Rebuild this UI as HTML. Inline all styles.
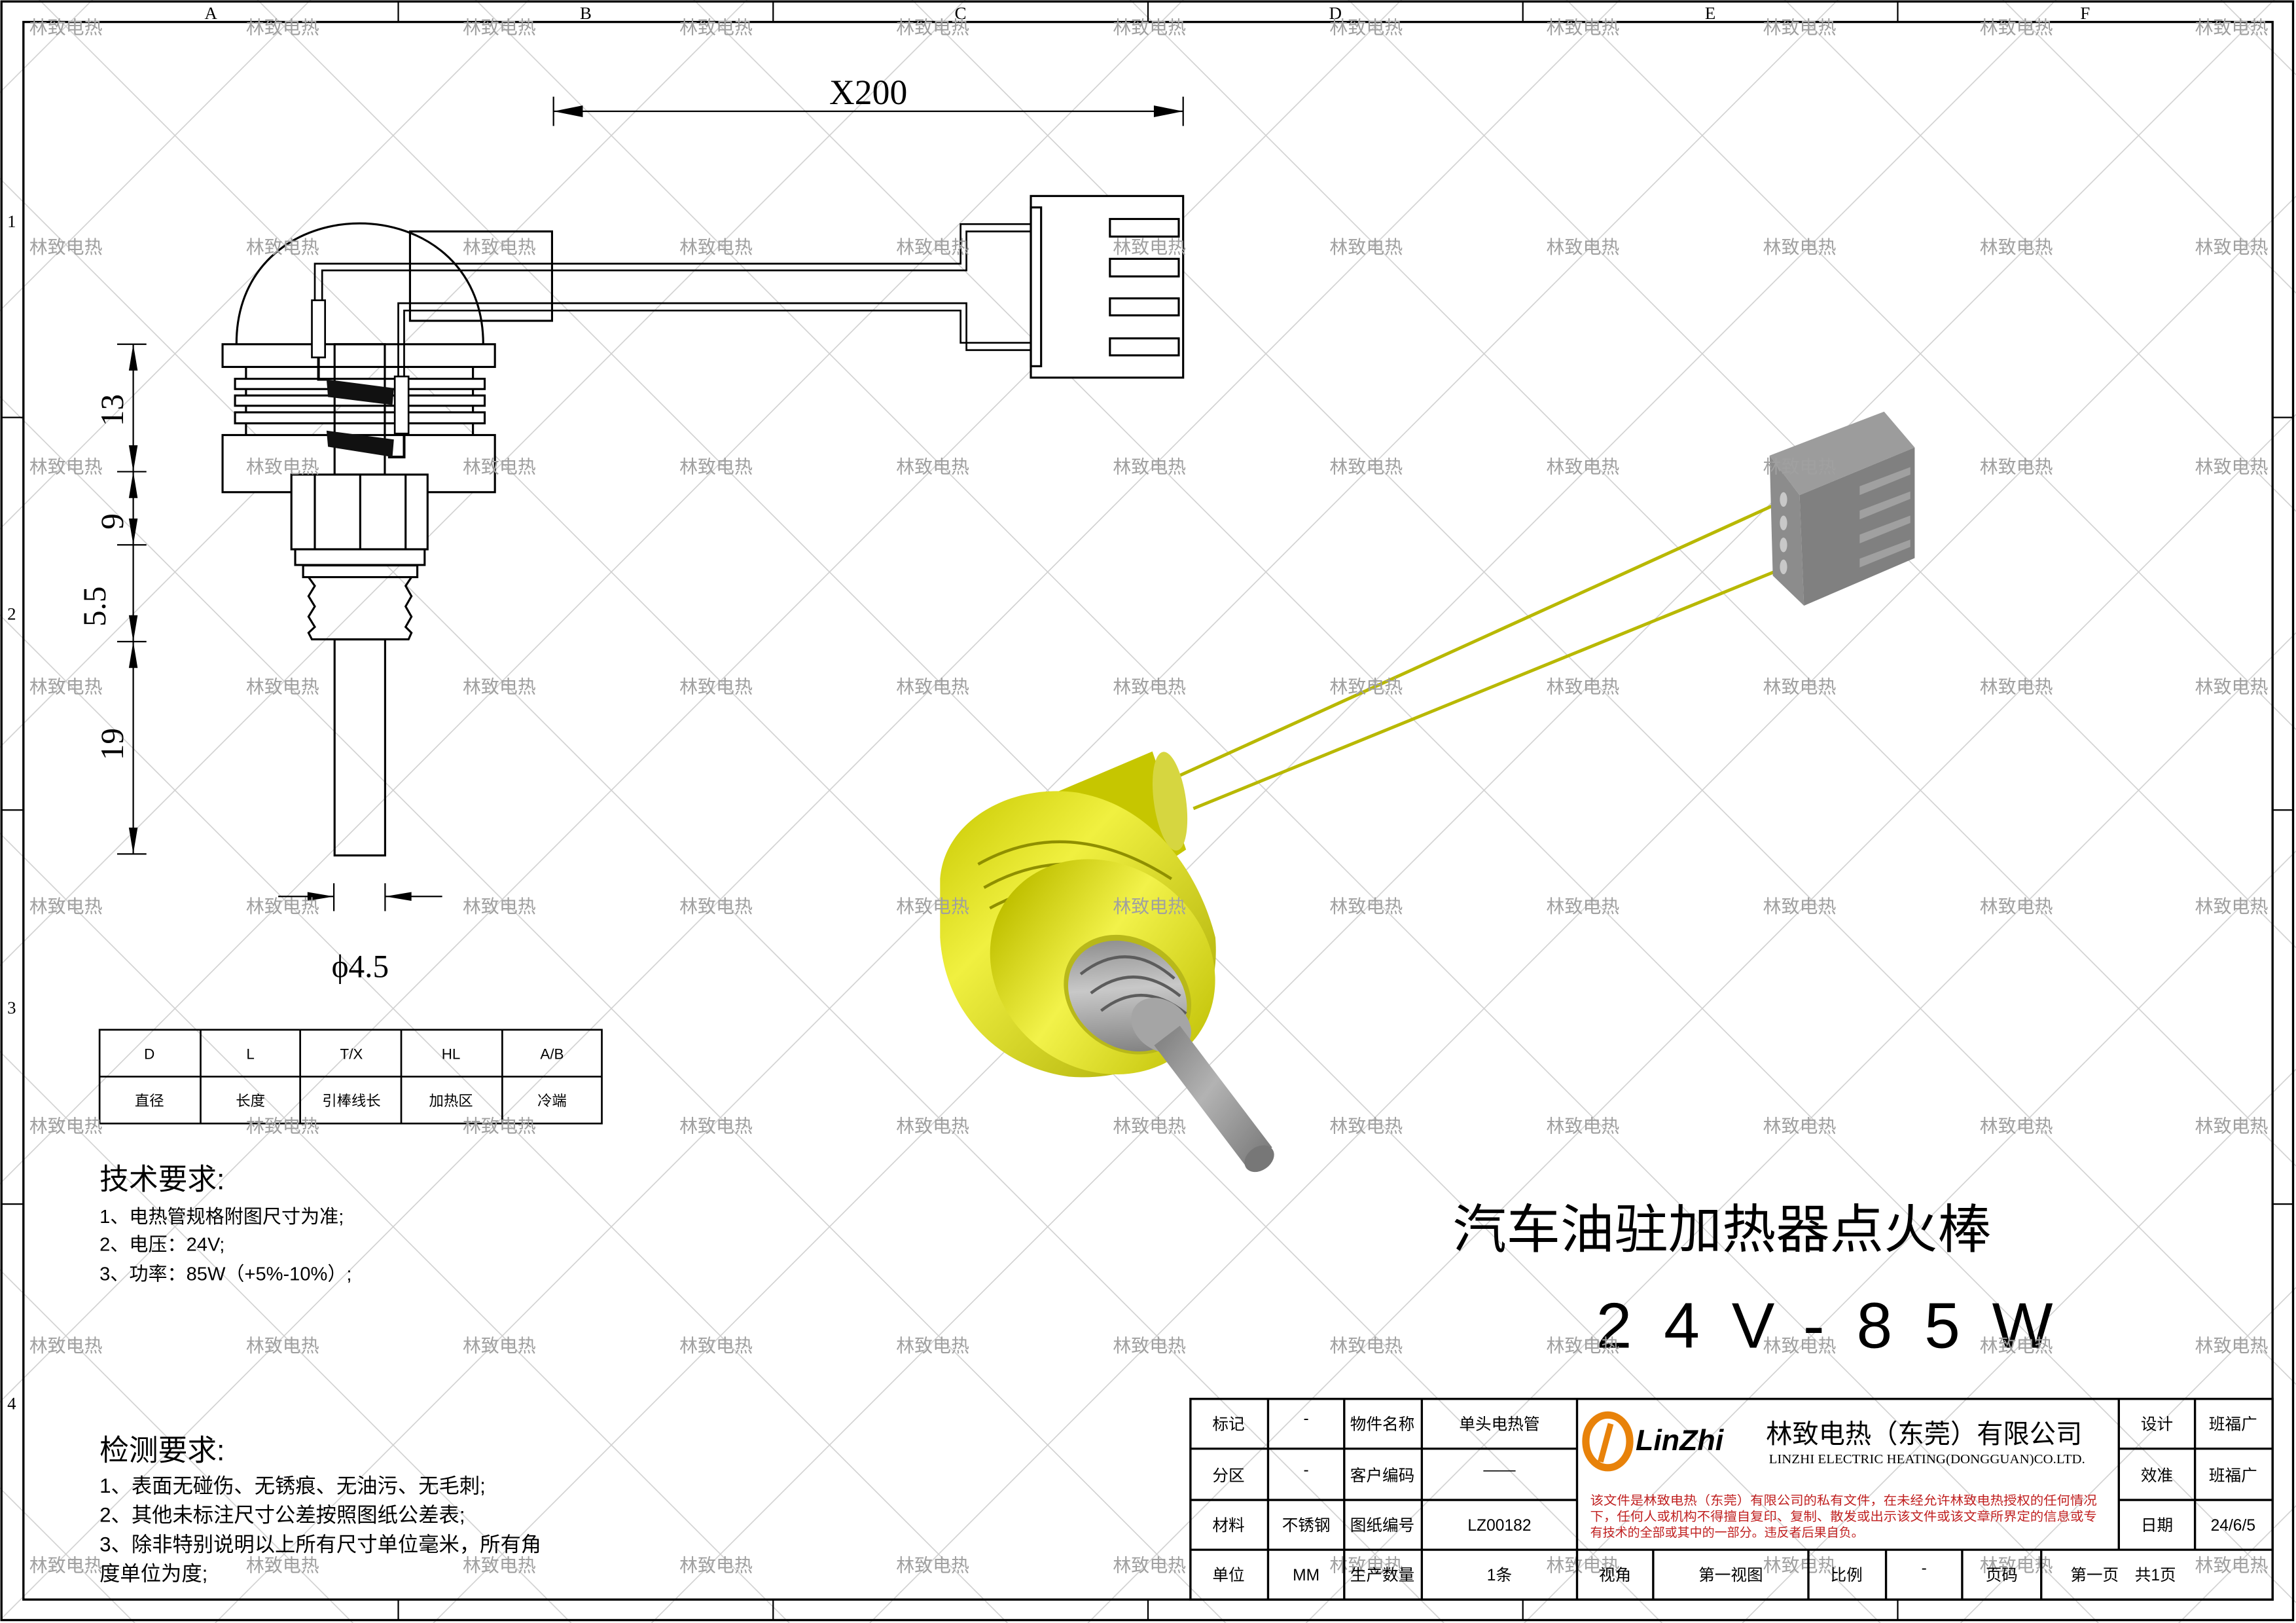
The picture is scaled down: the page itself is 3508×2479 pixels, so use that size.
<!DOCTYPE html>
<html><head><meta charset="utf-8"><style>html,body{margin:0;padding:0;background:#fff}svg{display:block}</style></head>
<body>
<svg width="3508" height="2479" viewBox="0 0 1568 1108" preserveAspectRatio="none" xmlns="http://www.w3.org/2000/svg" font-family="'Liberation Sans','Noto Sans CJK SC',sans-serif">
<defs>
<pattern id="wm" x="45" y="18" width="149" height="149" patternUnits="userSpaceOnUse">
<line x1="0" y1="0" x2="149" y2="149" stroke="#cfcfcf" stroke-width="0.7"/>
<line x1="149" y1="0" x2="0" y2="149" stroke="#cfcfcf" stroke-width="0.7"/>
</pattern>
<linearGradient id="yg" x1="0" y1="0" x2="1" y2="1"><stop offset="0" stop-color="#c8c800"/><stop offset="0.35" stop-color="#f0f040"/><stop offset="1" stop-color="#a5a500"/></linearGradient>
<linearGradient id="yf" x1="0" y1="0" x2="1" y2="0"><stop offset="0" stop-color="#c0c000"/><stop offset="0.45" stop-color="#f2f24a"/><stop offset="1" stop-color="#c8c810"/></linearGradient>
<linearGradient id="gg" x1="0" y1="0" x2="1" y2="1"><stop offset="0" stop-color="#777"/><stop offset="0.45" stop-color="#c8c8c8"/><stop offset="1" stop-color="#6a6a6a"/></linearGradient>
</defs>
<rect width="1568" height="1108" fill="#fff"/>
<rect width="1568" height="1108" fill="url(#wm)"/>

<!-- frame -->
<rect x="1" y="1" width="1565" height="1105" fill="none" stroke="#000" stroke-width="1.5"/>
<rect x="16" y="15" width="1536" height="1077" fill="none" stroke="#000" stroke-width="1.5"/>
<g stroke="#000" stroke-width="1">
<line x1="272" y1="1" x2="272" y2="15"/><line x1="528" y1="1" x2="528" y2="15"/><line x1="784" y1="1" x2="784" y2="15"/><line x1="1040" y1="1" x2="1040" y2="15"/><line x1="1296" y1="1" x2="1296" y2="15"/>
<line x1="1" y1="285" x2="16" y2="285"/><line x1="1" y1="553" x2="16" y2="553"/><line x1="1" y1="822" x2="16" y2="822"/>
<line x1="1552" y1="285" x2="1566" y2="285"/><line x1="1552" y1="553" x2="1566" y2="553"/><line x1="1552" y1="822" x2="1566" y2="822"/>
<line x1="272" y1="1092" x2="272" y2="1106"/><line x1="528" y1="1092" x2="528" y2="1106"/><line x1="784" y1="1092" x2="784" y2="1106"/><line x1="1040" y1="1092" x2="1040" y2="1106"/><line x1="1296" y1="1092" x2="1296" y2="1106"/>
</g>
<g font-family="'Liberation Serif',serif" font-size="12" text-anchor="middle">
<text x="144" y="13">A</text><text x="400" y="13">B</text><text x="656" y="13">C</text><text x="912" y="13">D</text><text x="1168" y="13">E</text><text x="1424" y="13">F</text>
<text x="8" y="155">1</text><text x="8" y="423">2</text><text x="8" y="692">3</text><text x="8" y="962">4</text>
</g>

<!-- X200 dimension -->
<g stroke="#000" stroke-width="1" fill="none">
<line x1="378" y1="66" x2="378" y2="86"/><line x1="808" y1="66" x2="808" y2="86"/>
<line x1="378" y1="76" x2="808" y2="76"/>
</g>
<polygon points="378,76 398,72 398,80" fill="#000"/><polygon points="808,76 788,72 788,80" fill="#000"/>
<text x="593" y="71" font-family="'Liberation Serif',serif" font-size="24" text-anchor="middle">X200</text>

<!-- left drawing -->
<g stroke="#000" stroke-width="1.4" fill="none">
<path d="M161.5,235 C161,125 330,125 330,235"/>
<rect x="280" y="158" width="97" height="61"/>
<rect x="152" y="235" width="186" height="15.5" fill="#fff"/>
<line x1="168" y1="250" x2="168" y2="297"/><line x1="323" y1="250" x2="323" y2="297"/>
<rect x="160.5" y="258.6" width="170.5" height="7" fill="#fff"/><rect x="160.5" y="270" width="170.5" height="7" fill="#fff"/><rect x="160.5" y="281.5" width="170.5" height="7.5" fill="#fff"/>
<rect x="152" y="297" width="186" height="39" fill="#fff"/>
<rect x="228.5" y="235" width="34.3" height="89" fill="none"/>
<rect x="199" y="324" width="93" height="51" fill="#fff"/>
<line x1="215" y1="324" x2="215" y2="375"/><line x1="246" y1="324" x2="246" y2="375"/><line x1="277" y1="324" x2="277" y2="375"/>
<rect x="201.6" y="375" width="88.4" height="10.7" fill="#fff"/>
<rect x="207" y="386" width="78" height="8"/>
<path d="M210.7,394 L215,400 L210.7,407 L215,414 L210.7,421 L215,428 L210.7,432 L213,436.5 L279,436.5 L281,432 L277,428 L281,421 L277,414 L281,407 L277,400 L281,394"/>
<rect x="228.5" y="436.5" width="34.5" height="147.5"/>
<!-- wires -->
<path d="M215,205 L215,180 L656,180 L656,153 L758,153" stroke-width="1.2"/>
<path d="M220,205 L220,184.6 L660,184.6 L660,158 L758,158" stroke-width="1.2"/>
<path d="M272,257 L272,207 L660,207 L660,239 L758,239" stroke-width="1.2"/>
<path d="M276,257 L276,212 L656,212 L656,234 L758,234" stroke-width="1.2"/>
<rect x="213" y="205" width="9" height="39" fill="#fff" stroke-width="1.2"/>
<rect x="269.6" y="257" width="9.4" height="39" fill="#fff" stroke-width="1.2"/>
<path d="M217.5,244 L217.5,259 L224,259" stroke-width="1.8"/>
<path d="M276,296 L276,312 L265,312" stroke-width="1.8"/>
<!-- connector -->
<rect x="704" y="133.8" width="104" height="124" fill="#fff"/>
<rect x="704" y="141.6" width="7" height="108.4"/>
<rect x="758" y="149.5" width="47" height="12" fill="#fff"/><rect x="758" y="176.7" width="47" height="12" fill="#fff"/><rect x="758" y="203.7" width="47" height="11.6" fill="#fff"/><rect x="758" y="231" width="47" height="11.6" fill="#fff"/>
</g>
<!-- coils -->
<g fill="#111">
<polygon points="223,259 269,265 268,276.5 224,271"/>
<polygon points="223,294 269,300 268,312 224,305"/>
</g>

<!-- vertical dimension -->
<g stroke="#000" stroke-width="1" fill="none">
<line x1="91" y1="235" x2="91" y2="583"/>
<line x1="80" y1="235" x2="100" y2="235"/><line x1="80" y1="322" x2="100" y2="322"/><line x1="80" y1="372" x2="100" y2="372"/><line x1="80" y1="438" x2="100" y2="438"/><line x1="80" y1="583" x2="100" y2="583"/>
</g>
<g fill="#000">
<polygon points="91,235 88,253 94,253"/><polygon points="91,322 88,304 94,304"/>
<polygon points="91,322 88,340 94,340"/>
<polygon points="91,372 88,354 94,354"/><polygon points="91,438 88,420 94,420"/>
<polygon points="91,438 88,456 94,456"/><polygon points="91,583 88,565 94,565"/>
</g>
<g font-family="'Liberation Serif',serif" font-size="22" text-anchor="middle">
<text transform="translate(84,280) rotate(-90)">13</text>
<text transform="translate(84,356) rotate(-90)">9</text>
<text transform="translate(72,414) rotate(-90)">5.5</text>
<text transform="translate(84,508) rotate(-90)">19</text>
</g>
<!-- phi dimension -->
<g stroke="#000" stroke-width="1"><line x1="228" y1="603" x2="228" y2="622"/><line x1="263" y1="603" x2="263" y2="622"/><line x1="190" y1="612" x2="228" y2="612"/><line x1="263" y1="612" x2="302" y2="612"/></g>
<polygon points="228,612 210,609 210,615" fill="#000"/><polygon points="263,612 281,609 281,615" fill="#000"/>
<text x="246" y="667" font-family="'Liberation Serif',serif" font-size="22" text-anchor="middle">ϕ4.5</text>

<!-- spec table -->
<g stroke="#000" stroke-width="1.2" fill="none">
<rect x="68" y="703" width="343" height="64"/><line x1="68" y1="735" x2="411" y2="735"/>
<line x1="137" y1="703" x2="137" y2="767"/><line x1="205" y1="703" x2="205" y2="767"/><line x1="274" y1="703" x2="274" y2="767"/><line x1="343" y1="703" x2="343" y2="767"/>
</g>
<g font-size="10" text-anchor="middle">
<text x="102" y="723">D</text><text x="171" y="723">L</text><text x="240" y="723">T/X</text><text x="308" y="723">HL</text><text x="377" y="723">A/B</text>
<text x="102" y="755">直径</text><text x="171" y="755">长度</text><text x="240" y="755">引棒线长</text><text x="308" y="755">加热区</text><text x="377" y="755">冷端</text>
</g>

<!-- notes -->
<text x="68" y="812" font-size="20">技术要求:</text>
<g font-size="13"><text x="68" y="835">1、电热管规格附图尺寸为准;</text><text x="68" y="854">2、电压：24V;</text><text x="68" y="874">3、功率：85W（+5%-10%）;</text></g>
<text x="68" y="997" font-size="20">检测要求:</text>
<g font-size="14"><text x="68" y="1019">1、表面无碰伤、无锈痕、无油污、无毛刺;</text><text x="68" y="1039">2、其他未标注尺寸公差按照图纸公差表;</text><text x="68" y="1059">3、除非特别说明以上所有尺寸单位毫米，所有角</text><text x="68" y="1079">度单位为度;</text></g>

<!-- titles -->
<text x="992" y="852" font-size="36" textLength="368" lengthAdjust="spacingAndGlyphs">汽车油驻加热器点火棒</text>
<text x="1090" y="920" font-size="44" textLength="312" lengthAdjust="spacing">24V-85W</text>

<!-- 3D render -->
<g>
<line x1="800" y1="532" x2="1220" y2="341" stroke="#b8b800" stroke-width="2.2"/>
<line x1="815" y1="552" x2="1220" y2="387" stroke="#b8b800" stroke-width="2.2"/>
<polygon points="1208.5,311 1286.7,281 1307.6,305.5 1229,338" fill="#9c9c9c"/>
<polygon points="1208.5,311 1229,338 1232,413.5 1210.7,393" fill="#8c8c8c"/>
<polygon points="1229,338 1307.6,305.5 1307.6,381 1232,413.5" fill="#808080"/>
<g fill="#a0a0a0">
<polygon points="1270,332 1304.6,318.9 1304.6,324 1270,338"/>
<polygon points="1270,348.6 1304.6,335.5 1304.6,340.6 1270,354.6"/>
<polygon points="1270,365 1304.6,352 1304.6,357 1270,371"/>
<polygon points="1270,381.4 1304.6,368.4 1304.6,373.4 1270,387.4"/>
</g>
<g fill="#c8c8c8"><ellipse cx="1218" cy="341" rx="2.5" ry="5"/><ellipse cx="1218" cy="357" rx="2.5" ry="5"/><ellipse cx="1218" cy="372" rx="2.5" ry="5"/><ellipse cx="1218" cy="387" rx="2.5" ry="5"/></g>

<polygon points="721,541 787,513 810,580 760,614" fill="#c6c600"/>
<ellipse cx="799" cy="547" rx="11" ry="34" transform="rotate(-8 799 547)" fill="#d6d640"/>
<path d="M642,600 C645,560 690,535 735,541 C790,550 820,600 830,640 C835,700 790,740 730,735 C680,728 645,690 642,640 Z" fill="url(#yg)"/>
<path d="M668,590 Q730,555 800,600" stroke="#8f8f00" stroke-width="2" fill="none"/>
<path d="M672,606 Q735,570 805,614" stroke="#8f8f00" stroke-width="2" fill="none"/>
<path d="M676,620 Q738,586 808,628" stroke="#8f8f00" stroke-width="2" fill="none"/>
<ellipse cx="753" cy="660" rx="80" ry="70" transform="rotate(35 753 660)" fill="url(#yf)"/>
<ellipse cx="770" cy="679" rx="46" ry="38" transform="rotate(35 770 679)" fill="#b8b81a"/>
<ellipse cx="770" cy="680" rx="43" ry="35" transform="rotate(35 770 680)" fill="url(#gg)"/>
<path d="M738,665 Q770,640 802,668" stroke="#5c5c5c" stroke-width="2" fill="none"/>
<path d="M745,678 Q775,655 806,680" stroke="#5c5c5c" stroke-width="2" fill="none"/>
<path d="M752,690 Q780,668 810,692" stroke="#5c5c5c" stroke-width="2" fill="none"/>
<ellipse cx="793" cy="700" rx="22" ry="17" transform="rotate(35 793 700)" fill="#a5a5a5"/>
<line x1="797" y1="707" x2="860" y2="790" stroke="url(#gg)" stroke-width="22"/>
<line x1="797" y1="707" x2="860" y2="790" stroke="#999" stroke-width="22" stroke-opacity="0.45"/>
<ellipse cx="860" cy="791" rx="11" ry="8" transform="rotate(-35 860 791)" fill="#777"/>
</g>

<!-- watermark text -->
<g font-size="12.5" fill="#a0a0a0" text-anchor="middle">
<text x="45" y="23">林致电热</text><text x="193" y="23">林致电热</text><text x="341" y="23">林致电热</text><text x="489" y="23">林致电热</text><text x="637" y="23">林致电热</text><text x="785" y="23">林致电热</text><text x="933" y="23">林致电热</text><text x="1081" y="23">林致电热</text><text x="1229" y="23">林致电热</text><text x="1377" y="23">林致电热</text><text x="1524" y="23">林致电热</text>
<text x="45" y="173">林致电热</text><text x="193" y="173">林致电热</text><text x="341" y="173">林致电热</text><text x="489" y="173">林致电热</text><text x="637" y="173">林致电热</text><text x="785" y="173">林致电热</text><text x="933" y="173">林致电热</text><text x="1081" y="173">林致电热</text><text x="1229" y="173">林致电热</text><text x="1377" y="173">林致电热</text><text x="1524" y="173">林致电热</text>
<text x="45" y="323">林致电热</text><text x="193" y="323">林致电热</text><text x="341" y="323">林致电热</text><text x="489" y="323">林致电热</text><text x="637" y="323">林致电热</text><text x="785" y="323">林致电热</text><text x="933" y="323">林致电热</text><text x="1081" y="323">林致电热</text><text x="1229" y="323">林致电热</text><text x="1377" y="323">林致电热</text><text x="1524" y="323">林致电热</text>
<text x="45" y="473">林致电热</text><text x="193" y="473">林致电热</text><text x="341" y="473">林致电热</text><text x="489" y="473">林致电热</text><text x="637" y="473">林致电热</text><text x="785" y="473">林致电热</text><text x="933" y="473">林致电热</text><text x="1081" y="473">林致电热</text><text x="1229" y="473">林致电热</text><text x="1377" y="473">林致电热</text><text x="1524" y="473">林致电热</text>
<text x="45" y="623">林致电热</text><text x="193" y="623">林致电热</text><text x="341" y="623">林致电热</text><text x="489" y="623">林致电热</text><text x="637" y="623">林致电热</text><text x="785" y="623">林致电热</text><text x="933" y="623">林致电热</text><text x="1081" y="623">林致电热</text><text x="1229" y="623">林致电热</text><text x="1377" y="623">林致电热</text><text x="1524" y="623">林致电热</text>
<text x="45" y="773">林致电热</text><text x="193" y="773">林致电热</text><text x="341" y="773">林致电热</text><text x="489" y="773">林致电热</text><text x="637" y="773">林致电热</text><text x="785" y="773">林致电热</text><text x="933" y="773">林致电热</text><text x="1081" y="773">林致电热</text><text x="1229" y="773">林致电热</text><text x="1377" y="773">林致电热</text><text x="1524" y="773">林致电热</text>
<text x="45" y="923">林致电热</text><text x="193" y="923">林致电热</text><text x="341" y="923">林致电热</text><text x="489" y="923">林致电热</text><text x="637" y="923">林致电热</text><text x="785" y="923">林致电热</text><text x="933" y="923">林致电热</text><text x="1081" y="923">林致电热</text><text x="1229" y="923">林致电热</text><text x="1377" y="923">林致电热</text><text x="1524" y="923">林致电热</text>
<text x="45" y="1073">林致电热</text><text x="193" y="1073">林致电热</text><text x="341" y="1073">林致电热</text><text x="489" y="1073">林致电热</text><text x="637" y="1073">林致电热</text><text x="785" y="1073">林致电热</text><text x="933" y="1073">林致电热</text><text x="1081" y="1073">林致电热</text><text x="1229" y="1073">林致电热</text><text x="1377" y="1073">林致电热</text><text x="1524" y="1073">林致电热</text>
</g>

<!-- title block -->
<g stroke="#000" stroke-width="1.5" fill="none">
<rect x="813" y="955" width="739" height="137"/>
<line x1="813" y1="989" x2="1077" y2="989"/><line x1="813" y1="1024" x2="1077" y2="1024"/>
<line x1="1447" y1="989" x2="1552" y2="989"/><line x1="1447" y1="1024" x2="1552" y2="1024"/>
<line x1="813" y1="1058" x2="1552" y2="1058"/>
<line x1="866" y1="955" x2="866" y2="1092"/><line x1="918" y1="955" x2="918" y2="1092"/><line x1="971" y1="955" x2="971" y2="1092"/><line x1="1077" y1="955" x2="1077" y2="1092"/>
<line x1="1447" y1="955" x2="1447" y2="1058"/><line x1="1499" y1="955" x2="1499" y2="1058"/>
<line x1="1129" y1="1058" x2="1129" y2="1092"/><line x1="1235" y1="1058" x2="1235" y2="1092"/><line x1="1288" y1="1058" x2="1288" y2="1092"/><line x1="1340" y1="1058" x2="1340" y2="1092"/><line x1="1394" y1="1058" x2="1394" y2="1092"/>
</g>
<g font-size="11" text-anchor="middle">
<text x="839" y="976">标记</text><text x="892" y="972">-</text><text x="944" y="976">物件名称</text><text x="1024" y="976">单头电热管</text>
<text x="839" y="1011">分区</text><text x="892" y="1007">-</text><text x="944" y="1011">客户编码</text><text x="1024" y="1007">——</text>
<text x="839" y="1045">材料</text><text x="892" y="1045">不锈钢</text><text x="944" y="1045">图纸编号</text><text x="1024" y="1045">LZ00182</text>
<text x="839" y="1079">单位</text><text x="892" y="1079">MM</text><text x="944" y="1079">生产数量</text><text x="1024" y="1079">1条</text>
<text x="1103" y="1079">视角</text><text x="1182" y="1079">第一视图</text><text x="1261" y="1079">比例</text><text x="1314" y="1074">-</text><text x="1367" y="1079">页码</text><text x="1450" y="1079">第一页　共1页</text>
<text x="1473" y="976">设计</text><text x="1525" y="976">班福广</text>
<text x="1473" y="1011">效准</text><text x="1525" y="1011">班福广</text>
<text x="1473" y="1045">日期</text><text x="1525" y="1045">24/6/5</text>
</g>
<!-- logo -->
<ellipse cx="1098" cy="984" rx="15" ry="18" fill="none" stroke="#e8820a" stroke-width="5"/>
<path d="M1100,972 L1093,998" stroke="#e8820a" stroke-width="4"/>
<text x="1117" y="990" font-size="20" font-weight="bold" font-style="italic" fill="#000">LinZhi</text>
<text x="1206" y="985" font-size="18">林致电热（东莞）有限公司</text>
<text x="1208" y="999" font-family="'Liberation Serif',serif" font-size="9" textLength="216" lengthAdjust="spacingAndGlyphs">LINZHI ELECTRIC HEATING(DONGGUAN)CO.LTD.</text>
<g font-size="8.5" fill="#c02020">
<text x="1086" y="1027" textLength="346" lengthAdjust="spacingAndGlyphs">该文件是林致电热（东莞）有限公司的私有文件，在未经允许林致电热授权的任何情况</text>
<text x="1086" y="1038" textLength="346" lengthAdjust="spacingAndGlyphs">下，任何人或机构不得擅自复印、复制、散发或出示该文件或该文章所界定的信息或专</text>
<text x="1086" y="1049">有技术的全部或其中的一部分。违反者后果自负。</text>
</g>
</svg>
</body></html>
